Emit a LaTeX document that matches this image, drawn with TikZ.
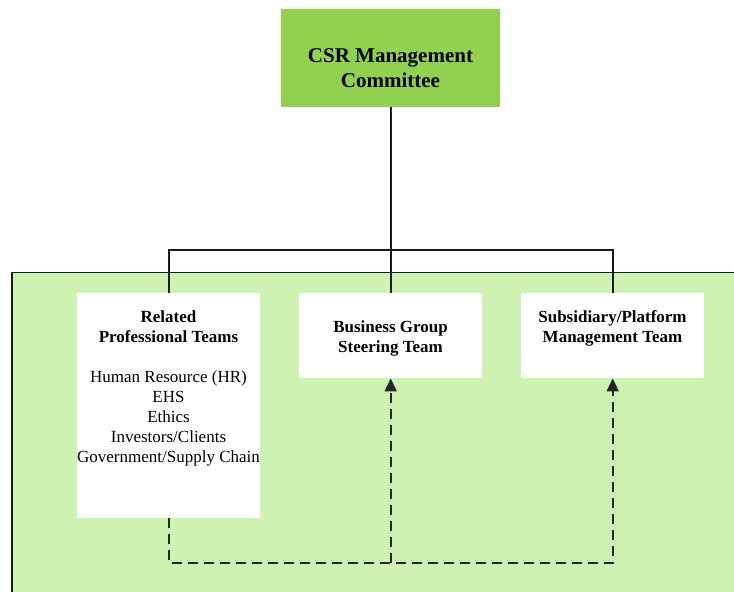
\documentclass[tikz,border=0pt]{standalone}
\usepackage{fontspec}
\setmainfont{Liberation Serif}
\usetikzlibrary{arrows.meta}
\definecolor{topgreen}{RGB}{146,208,80}
\definecolor{bggreen}{RGB}{205,242,177}
\begin{document}
\begin{tikzpicture}[x=1pt,y=-1pt,
  whitebox/.style={fill=white, draw=none, inner sep=0, anchor=north west, minimum width=183pt},
  link/.style={line width=1.6pt, black!90},
  dlink/.style={line width=1.8pt, black!85, dash pattern=on 10pt off 6pt, -{Triangle[length=13pt,width=12pt]}},
  lbl/.style={font=\fontsize{17}{20}\selectfont, align=center, inner sep=0},
  ttl/.style={font=\fontsize{21}{25}\selectfont\bfseries, align=center, inner sep=0},
  ]
\useasboundingbox (0,0) rectangle (734,592);
\fill[bggreen] (12,272.5) rectangle (734,592);
\draw[line width=1.4pt, black!90] (12,592) -- (12,272.5) -- (734,272.5);

\node[fill=topgreen, draw=none, inner sep=0, anchor=north west, minimum width=219pt, minimum height=98pt] (csr) at (281,9) {};
\node[ttl] (csrtxt) at (390.5,68) {CSR Management\\Committee};

\node[whitebox, minimum height=225pt] (rel) at (77,293) {};
\node[whitebox, minimum height=85pt] (mid) at (299,293) {};
\node[whitebox, minimum height=85pt] (sub) at (521,293) {};

\node[lbl] (reltxt) at (168.5,388.5) {\textbf{Related}\\\textbf{Professional Teams}\\[20pt]Human Resource (HR)\\EHS\\Ethics\\Investors/Clients\\Government/Supply Chain};
\node[lbl] (midtxt) at (390.5,338) {\textbf{Business Group}\\\textbf{Steering Team}};
\node[lbl] (subtxt) at (612.5,328) {\textbf{Subsidiary/Platform}\\\textbf{Management Team}};

\coordinate (bus) at (390.5,250);
\coordinate (dbus) at (390.5,563);
\draw[link] (csr.south) -- (mid.north);
\draw[link] (rel.north) -- (rel.north |- bus) -- (sub.north |- bus) -- (sub.north);

\draw[dlink] (rel.south) -- (rel.south |- dbus) -- (sub.south |- dbus) -- (sub.south);
\draw[dlink] (mid.south |- dbus) -- (mid.south);
\end{tikzpicture}
\end{document}
